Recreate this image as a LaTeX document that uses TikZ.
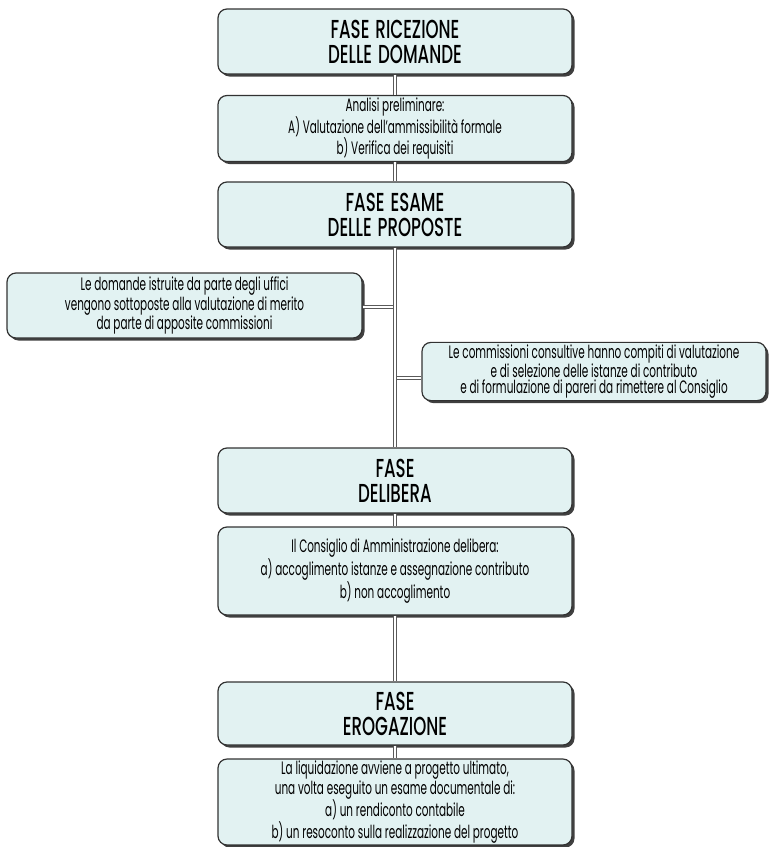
\documentclass[tikz,border=0pt]{standalone}
\usepackage{fontspec}
\setmainfont{Poppins}[FakeStretch=0.58]
\newfontfamily\titlefont{Poppins}[UprightFont=* Medium, FakeStretch=0.64]
\usetikzlibrary{shadows}
\definecolor{boxfill}{RGB}{226,242,242}
\definecolor{boxline}{RGB}{50,50,50}
\definecolor{linkline}{RGB}{90,90,90}
\tikzset{
  box/.style={draw=boxline, line width=1.2pt, fill=boxfill, rounded corners=9pt,
    drop shadow={shadow xshift=2.5pt, shadow yshift=-2.5pt, fill=black!75, opacity=1},
    align=center, inner sep=2pt},
  titlebox/.style={box, font=\titlefont\fontsize{26}{25}\selectfont,
    minimum width=354pt, minimum height=65pt},
  bodybox/.style={box, font=\fontsize{18}{16.3}\selectfont},
  bodywide/.style={box, font=\fontsize{18}{17.6}\selectfont},
  link/.style={draw=linkline, line width=0.7pt, double=white, double distance=2.6pt}
}
\newcommand{\wsp}{\hspace{6pt}}
\begin{document}
\begin{tikzpicture}[x=1pt,y=-1pt]
\useasboundingbox (0,0) rectangle (769,847);
\coordinate (j1) at (395,307);
\coordinate (j2) at (395,378);
\node[titlebox] (b1) at (395,41.5) {FASE\wsp RICEZIONE\\DELLE\wsp DOMANDE};
\node[bodybox, minimum width=354pt, minimum height=63pt] (b2) at (395,128.5)
  {Analisi preliminare:\\A) Valutazione dell’ammissibilità formale\\b) Verifica dei requisiti};
\node[titlebox] (b3) at (395,214.5) {FASE\wsp ESAME\\DELLE\wsp PROPOSTE};
\node[bodybox, minimum width=355pt, minimum height=65pt] (bl) at (184.5,305.5)
  {Le domande istruite da parte degli uffici\\vengono sottoposte alla valutazione di merito\\da parte di apposite commissioni};
\node[bodybox, minimum width=344pt, minimum height=57pt] (br) at (594,371.5)
  {Le commissioni consultive hanno compiti di valutazione\\e di selezione delle istanze di contributo\\e di formulazione di pareri da rimettere al Consiglio};
\node[titlebox] (b4) at (395,480.5) {FASE\\DELIBERA};
\node[bodywide, minimum width=354pt, minimum height=88pt] (b5) at (395,571)
  {Il Consiglio di Amministrazione delibera:\\a) accoglimento istanze e assegnazione contributo\\b) non accoglimento};
\node[titlebox, minimum height=63pt] (b6) at (395,713.5) {FASE\\EROGAZIONE};
\node[bodywide, minimum width=354pt, minimum height=84pt] (b7) at (395,802)
  {La liquidazione avviene a progetto ultimato,\\una volta eseguito un esame documentale di:\\a) un rendiconto contabile\\b) un resoconto sulla realizzazione del progetto};
% branches
\draw[link] (j1 -| bl.east) -- (j1);
\draw[link] (j2) -- (j2 -| br.west);
% trunk
\draw[link] (b1) -- (b2);
\draw[link] (b2) -- (b3);
\draw[link] (b3) -- (b4);
\draw[link] (b4) -- (b5);
\draw[link] (b5) -- (b6);
\draw[link] (b6) -- (b7);
\end{tikzpicture}
\end{document}
